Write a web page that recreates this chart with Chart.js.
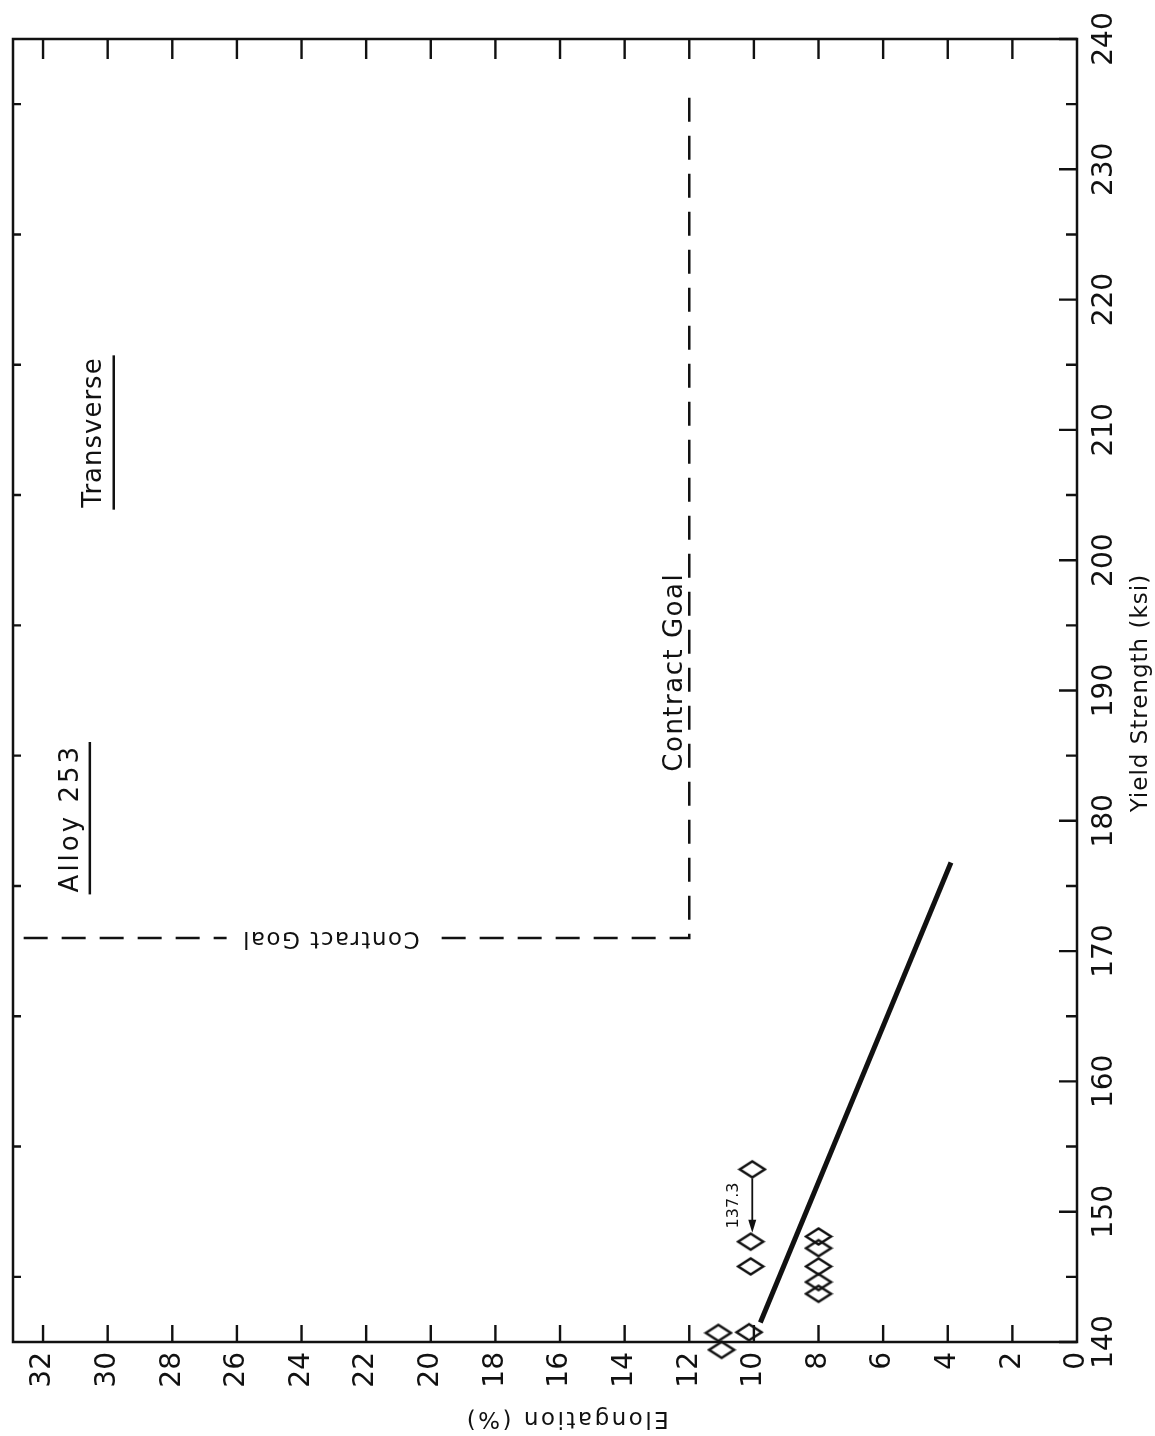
<!DOCTYPE html>
<html>
<head>
<meta charset="utf-8">
<script src="https://cdn.jsdelivr.net/npm/chart.js@4.4.1/dist/chart.umd.min.js"></script>
<style>
  html, body { margin: 0; padding: 0; background: #fff; }
  canvas { display: block; }
</style>
</head>
<body>
<canvas id="chart" width="1155" height="1436"></canvas>
<script>
// axis ticks
const ELONG_TICKS = [0, 2, 4, 6, 8, 10, 12, 14, 16, 18, 20, 22, 24, 26, 28, 30, 32];
const YIELD_TICKS = [140, 150, 160, 170, 180, 190, 200, 210, 220, 230, 240];
const YIELD_MINOR = [145, 155, 165, 175, 185, 195, 205, 215, 225, 235];

// specimens (elongation %, yield strength ksi)
const SPEC_ELONG = [11.1, 11.0, 10.15, 10.1, 10.1, 10.05, 8, 8, 8, 8, 8];
const SPEC_YIELD = [140.7, 139.4, 140.75, 145.8, 147.7, 153.25, 143.7, 144.6, 145.8, 147.2, 148.1];

// trend line
const TREND_ELONG = [9.8, 3.9];
const TREND_YIELD = [141.5, 176.8];

// contract goal corner
const GOAL_ELONG = [32.6, 12, 12];
const GOAL_YIELD = [171, 171, 236.5];

// arrow on the 10% column, 137.3 ksi off-scale value
const ARROW_ELONG = 10.05;
const ARROW_YIELD = [153.25, 147.7];
const ARROW_LABEL = "137.3";

const INK = "#111";
const FONT = '"DejaVu Sans", sans-serif';

function diamondImage(w, h, lw) {
  const c = document.createElement("canvas");
  c.width = w + lw * 2;
  c.height = h + lw * 2;
  const g = c.getContext("2d");
  const cx = c.width / 2, cy = c.height / 2;
  g.strokeStyle = INK;
  g.lineWidth = lw;
  g.beginPath();
  g.moveTo(cx - w / 2, cy);
  g.lineTo(cx, cy - h / 2);
  g.lineTo(cx + w / 2, cy);
  g.lineTo(cx, cy + h / 2);
  g.closePath();
  g.stroke();
  return c;
}

function rotText(ctx, txt, x, y, angle, font, align, spacing) {
  ctx.save();
  ctx.translate(x, y);
  ctx.rotate(angle);
  ctx.font = font;
  ctx.letterSpacing = spacing || "0px";
  ctx.textAlign = align || "center";
  ctx.textBaseline = "middle";
  ctx.fillText(txt, 0, 0);
  const w = ctx.measureText(txt).width;
  ctx.restore();
  return w;
}

const framePlugin = {
  id: "frame",
  afterDraw(chart) {
    const { ctx, chartArea: a, scales: { x, y } } = chart;
    ctx.save();
    ctx.strokeStyle = INK;
    ctx.fillStyle = INK;
    ctx.lineWidth = 2.5;
    ctx.strokeRect(a.left, a.top, a.right - a.left, a.bottom - a.top);

    // inward ticks
    ctx.lineWidth = 2.4;
    ctx.beginPath();
    ELONG_TICKS.forEach((v) => {
      if (v === 0) return;
      const px = x.getPixelForValue(v);
      ctx.moveTo(px, a.bottom); ctx.lineTo(px, a.bottom - 17);
      ctx.moveTo(px, a.top); ctx.lineTo(px, a.top + 20);
    });
    YIELD_TICKS.forEach((v) => {
      const py = y.getPixelForValue(v);
      ctx.moveTo(a.right, py); ctx.lineTo(a.right - 18, py);
    });
    YIELD_MINOR.forEach((v) => {
      const py = y.getPixelForValue(v);
      ctx.moveTo(a.right, py); ctx.lineTo(a.right - 11, py);
      ctx.moveTo(a.left, py); ctx.lineTo(a.left + 8, py);
    });
    ctx.stroke();

    // tick labels, all turned to read bottom-to-top
    const up = -Math.PI / 2;
    ELONG_TICKS.forEach((v) => {
      rotText(ctx, String(v), x.getPixelForValue(v), a.bottom + 10, up, "28px " + FONT, "right");
    });
    YIELD_TICKS.forEach((v) => {
      rotText(ctx, String(v), a.right + 28, y.getPixelForValue(v), up, "28px " + FONT, "center");
    });

    // axis titles
    rotText(ctx, "Yield Strength (ksi)", a.right + 64, y.getPixelForValue(189.8), up, "23px " + FONT, "center", "1px");
    rotText(ctx, "Elongation (%)", x.getPixelForValue(15.8), a.bottom + 76, Math.PI, "23px " + FONT, "center", "2.5px");

    // panel labels with underline
    [["Alloy 253", 31.14, 180.2, "3px"], ["Transverse", 30.4, 209.8, "1px"]].forEach(([t, e, s, sp]) => {
      const cx = x.getPixelForValue(e), cy = y.getPixelForValue(s);
      const w = rotText(ctx, t, cx, cy, up, "26px " + FONT, "center", sp);
      ctx.lineWidth = 2.5;
      ctx.beginPath();
      ctx.moveTo(cx + 19, cy - w / 2 - 2);
      ctx.lineTo(cx + 19, cy + w / 2 + 2);
      ctx.stroke();
    });

    // contract goal labels
    rotText(ctx, "Contract Goal", x.getPixelForValue(12.44), y.getPixelForValue(191.4), up, "26px " + FONT, "center", "1.5px");
    const gx = x.getPixelForValue(23.1), gy = y.getPixelForValue(GOAL_YIELD[0]);
    ctx.fillStyle = "#fff";
    ctx.fillRect(gx - 104, gy - 14, 208, 28);
    ctx.fillStyle = INK;
    rotText(ctx, "Contract Goal", gx, gy, Math.PI, "23px " + FONT, "center", "1.5px");

    // arrow pointing to lower yield value
    const ax = x.getPixelForValue(ARROW_ELONG);
    const y0 = y.getPixelForValue(ARROW_YIELD[0]) + 9;
    const y1 = y.getPixelForValue(ARROW_YIELD[1]) - 9;
    ctx.lineWidth = 1.8;
    ctx.beginPath();
    ctx.moveTo(ax, y0); ctx.lineTo(ax, y1 - 10);
    ctx.stroke();
    ctx.beginPath();
    ctx.moveTo(ax, y1); ctx.lineTo(ax - 4, y1 - 13); ctx.lineTo(ax + 4, y1 - 13); ctx.closePath();
    ctx.fill();
    rotText(ctx, ARROW_LABEL, ax - 18, (y0 + y1) / 2, up, "16px " + FONT, "center");
    ctx.restore();
  },
};

new Chart(document.getElementById("chart"), {
  type: "scatter",
  data: {
    datasets: [
      {
        type: "line",
        label: "Contract Goal",
        data: GOAL_ELONG.map((e, i) => ({ x: e, y: GOAL_YIELD[i] })),
        borderColor: INK,
        borderWidth: 2.5,
        borderDash: [24, 14],
        pointRadius: 0,
        fill: false,
        tension: 0,
      },
      {
        type: "line",
        label: "Trend",
        data: TREND_ELONG.map((e, i) => ({ x: e, y: TREND_YIELD[i] })),
        borderColor: INK,
        borderWidth: 5,
        pointRadius: 0,
        fill: false,
      },
      {
        label: "Specimens",
        data: SPEC_ELONG.map((e, i) => ({ x: e, y: SPEC_YIELD[i] })),
        pointStyle: diamondImage(25, 16, 2.5),
        pointRadius: 12,
        clip: false,
      },
    ],
  },
  options: {
    responsive: false,
    animation: false,
    layout: { padding: { left: 10, top: 39, right: 0, bottom: 0 } },
    plugins: { legend: { display: false }, tooltip: { enabled: false } },
    scales: {
      x: {
        type: "linear",
        reverse: true,
        min: 0,
        max: 32.93,
        afterBuildTicks: (s) => { s.ticks = ELONG_TICKS.map((v) => ({ value: v })); },
        afterFit: (s) => { s.height = 94; },
        ticks: { display: false },
        grid: { display: false },
        border: { display: false },
      },
      y: {
        type: "linear",
        position: "right",
        min: 140,
        max: 240,
        afterBuildTicks: (s) => { s.ticks = YIELD_TICKS.map((v) => ({ value: v })); },
        afterFit: (s) => { s.width = 78; },
        ticks: { display: false },
        grid: { display: false },
        border: { display: false },
      },
    },
  },
  plugins: [framePlugin],
});
</script>
</body>
</html>
